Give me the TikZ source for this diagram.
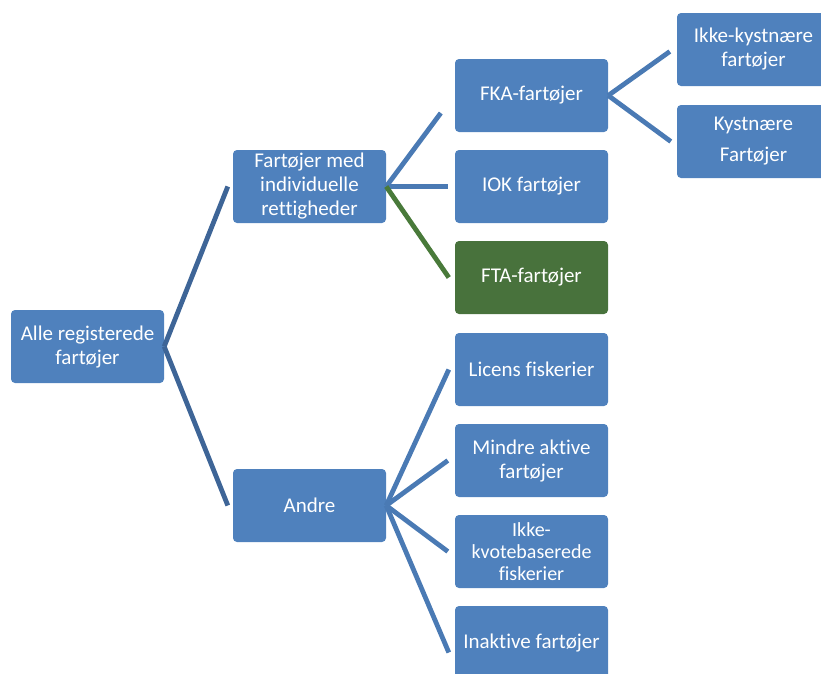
\documentclass[tikz,border=0pt]{standalone}
\usepackage{fontspec}
\setmainfont{Carlito}[Ligatures=NoCommon]
\definecolor{boxblue}{HTML}{4F81BD}
\definecolor{boxgreen}{HTML}{48723C}
\definecolor{linkdark}{HTML}{3E6597}
\definecolor{linkblue}{HTML}{4A7AB4}
\definecolor{linkgreen}{HTML}{497A3A}
\tikzset{
	box/.style={fill=boxblue, rounded corners=4pt, minimum width=153pt, minimum height=73pt,
		text=white, align=center, inner sep=2pt, font=\fontsize{21}{24}\selectfont},
	link/.style={line width=4.8pt, linkblue},
}

\begin{document}
\begin{tikzpicture}[x=1pt,y=-1pt]
%
	\useasboundingbox (0,0) rectangle (821,673);
	\clip (0,0) rectangle (821,673);
%
	\node[box] (alle) at (87.5,346.5) {Alle registerede\\fartøjer};
	\node[box] (indiv) at (309.5,186.5) {Fartøjer med\\individuelle\\rettigheder};
	\node[box] (andre) at (309.5,505.5) {Andre};
%
	\node[box] (fka) at (531.5,95.5) {FKA-fartøjer};
	\node[box] (iok) at (531.5,186.5) {IOK fartøjer};
	\node[box, fill=boxgreen] (fta) at (531.5,277.5) {FTA-fartøjer};
	\node[box] (licens) at (531.5,369.5) {Licens fiskerier};
	\node[box] (mindre) at (531.5,460.5) {Mindre aktive\\fartøjer};
	\node[box, font=\fontsize{20}{22}\selectfont] (ikkekvote) at (531.5,551.5) {Ikke-\\kvotebaserede\\fiskerier};
	\node[box] (inaktive) at (531.5,642.5) {Inaktive fartøjer};
%
	\node[box] (ikkekyst) at (753.5,49.5) {Ikke-kystnære\\fartøjer};
	\node[box] (kyst) at (753.5,141.5) {Kystnære\\[7pt]Fartøjer};
%
	\draw[link, linkdark] (alle.east) -- ([xshift=-5pt]indiv.west);
	\draw[link, linkdark] (alle.east) -- ([xshift=-5pt]andre.west);
%
	\draw[link] (indiv.east) -- ([xshift=-14pt,yshift=-17.5pt]fka.west);
	\draw[link] (indiv.east) -- ([xshift=-7pt]iok.west);
	\draw[link, linkgreen] (indiv.east) -- ([xshift=-6pt]fta.west);
%
	\draw[link] (andre.east) -- ([xshift=-6pt]licens.west);
	\draw[link] (andre.east) -- ([xshift=-7pt]mindre.west);
	\draw[link] (andre.east) -- ([xshift=-7pt]ikkekvote.west);
	\draw[link] (andre.east) -- ([xshift=-6pt,yshift=-10pt]inaktive.west);
%
	\draw[link] (fka.east) -- ([xshift=-7pt,yshift=-2pt]ikkekyst.west);
	\draw[link] (fka.east) -- ([xshift=-6pt]kyst.west);
%
\end{tikzpicture}
\end{document}
